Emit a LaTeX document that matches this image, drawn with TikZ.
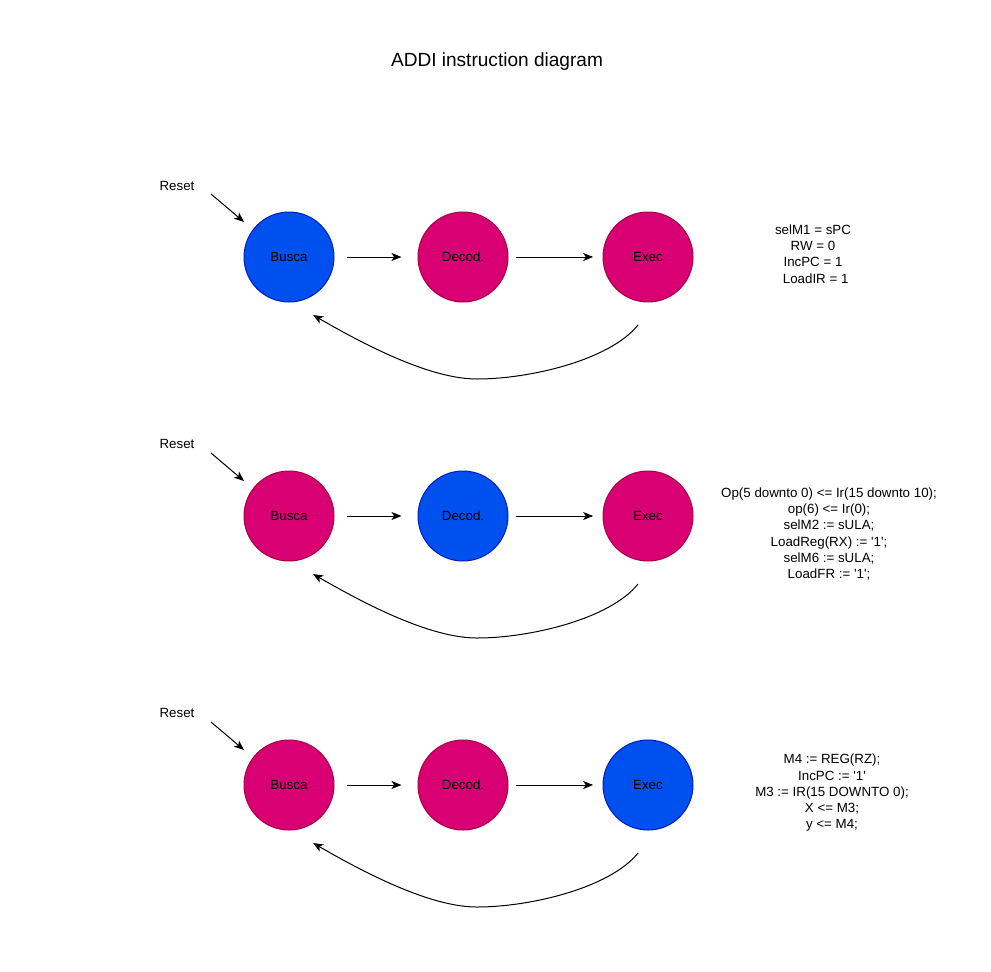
\documentclass[tikz,border=0pt]{standalone}
\usepackage{fontspec}
\setmainfont{Liberation Sans}[Ligatures=TeXOff]
\usetikzlibrary{arrows.meta}
\definecolor{bluefill}{HTML}{0050EF}
\definecolor{bluedraw}{HTML}{001DBC}
\definecolor{magfill}{HTML}{D80073}
\definecolor{magdraw}{HTML}{A50040}
\begin{document}
\begin{tikzpicture}[x=0.75pt,y=-0.75pt,
  state/.style={circle,minimum size=67.5pt,inner sep=0pt,line width=0.75pt,font=\fontsize{10}{12}\selectfont},
  activestate/.style={state,fill=bluefill,draw=bluedraw},
  idlestate/.style={state,fill=magfill,draw=magdraw},
  arr/.style={-{Stealth[length=7.5pt,width=6pt,inset=2pt]},line width=0.75pt},
  lbl/.style={font=\fontsize{10}{12.2}\selectfont,align=center,inner sep=0pt},
]
\useasboundingbox[fill=white] (0,0) rectangle (991,971);
\node[font=\fontsize{14.3}{17}\selectfont,inner sep=0pt] (title) at (497,62) {ADDI instruction diagram};

% Row 1
\node[lbl] (reset1) at (177,186) {Reset};
\coordinate (rs1) at (211,194); \coordinate (re1) at (244,222);
\node[activestate] (b1) at (289,257) {Busca};
\node[idlestate] (d1) at (463,257) {Decod.};
\node[idlestate] (e1) at (648,257) {Exec};
\draw[arr,shorten <=9pt,shorten >=12pt] (b1) -- (d1);
\draw[arr,shorten <=5.5pt,shorten >=7pt] (d1) -- (e1);
\draw[arr] (rs1) -- (re1);
\coordinate (cs1) at (638,325); \coordinate (cm1) at (477,379); \coordinate (ce1) at (313,315);
\draw[arr] (cs1) .. controls +(-28,35) and +(53,0) .. (cm1) .. controls +(-47,0) and +(52,30) .. (ce1);
\node[lbl] (t1) at (813,254) {selM1 = sPC\\RW = 0\\IncPC = 1\\\hspace*{0.4em}LoadIR = 1};

% Row 2
\node[lbl] (reset2) at (177,444) {Reset};
\coordinate (rs2) at (211,453); \coordinate (re2) at (244,481);
\node[idlestate] (b2) at (289,516) {Busca};
\node[activestate] (d2) at (463,516) {Decod.};
\node[idlestate] (e2) at (648,516) {Exec};
\draw[arr,shorten <=9pt,shorten >=12pt] (b2) -- (d2);
\draw[arr,shorten <=5.5pt,shorten >=7pt] (d2) -- (e2);
\draw[arr] (rs2) -- (re2);
\coordinate (cs2) at (638,584); \coordinate (cm2) at (477,638); \coordinate (ce2) at (313,574);
\draw[arr] (cs2) .. controls +(-28,35) and +(53,0) .. (cm2) .. controls +(-47,0) and +(52,30) .. (ce2);
\node[lbl] (t2) at (829,534) {Op(5 downto 0) <= Ir(15 downto 10);\\op(6) <= Ir(0);\\selM2 := sULA;\\LoadReg(RX) := '1';\\selM6 := sULA;\\LoadFR := '1';};

% Row 3
\node[lbl] (reset3) at (177,713) {Reset};
\coordinate (rs3) at (211,722); \coordinate (re3) at (244,750);
\node[idlestate] (b3) at (289,785) {Busca};
\node[idlestate] (d3) at (463,785) {Decod.};
\node[activestate] (e3) at (648,785) {Exec};
\draw[arr,shorten <=9pt,shorten >=12pt] (b3) -- (d3);
\draw[arr,shorten <=5.5pt,shorten >=7pt] (d3) -- (e3);
\draw[arr] (rs3) -- (re3);
\coordinate (cs3) at (638,853); \coordinate (cm3) at (477,907); \coordinate (ce3) at (313,843);
\draw[arr] (cs3) .. controls +(-28,35) and +(53,0) .. (cm3) .. controls +(-47,0) and +(52,30) .. (ce3);
\node[lbl] (t3) at (832,793) {M4 := REG(RZ);\\IncPC := '1'\\M3 := IR(15 DOWNTO 0);\\X <= M3;\\y <= M4;};
\end{tikzpicture}
\end{document}
